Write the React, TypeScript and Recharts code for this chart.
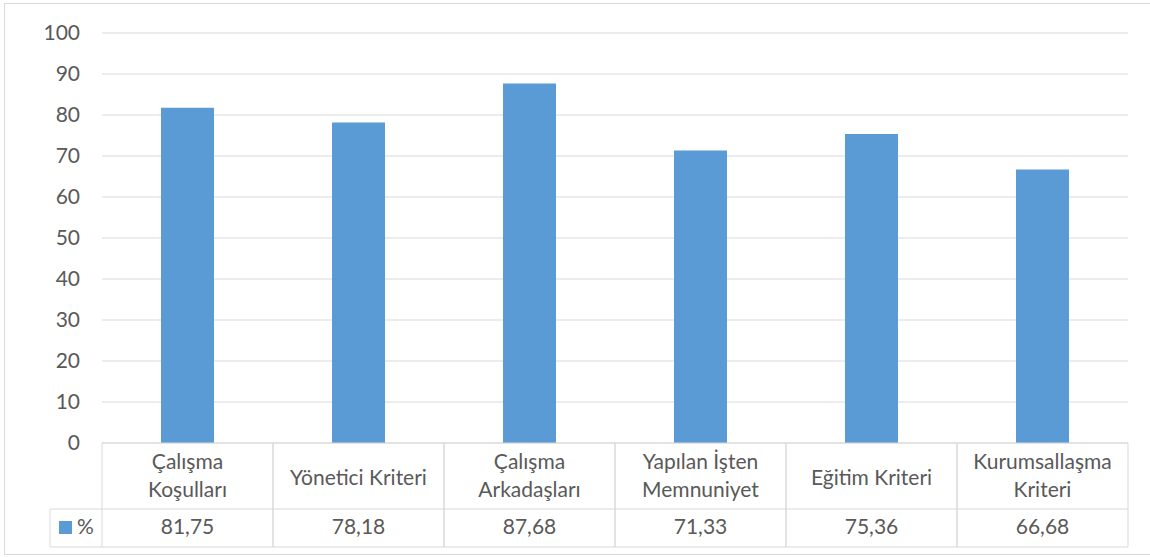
import { Bar, BarChart, CartesianGrid, XAxis, YAxis } from 'recharts'

const CATEGORIES = [
  'Çalışma\nKoşulları',
  'Yönetici Kriteri',
  'Çalışma\nArkadaşları',
  'Yapılan İşten\nMemnuniyet',
  'Eğitim Kriteri',
  'Kurumsallaşma\nKriteri',
]
const VALUES = [81.75, 78.18, 87.68, 71.33, 75.36, 66.68]
const Y_TICKS = [0, 10, 20, 30, 40, 50, 60, 70, 80, 90, 100]
const SERIES_NAME = '%'

const W = 1150
const H = 557
const PLOT_LEFT = 102
const PLOT_RIGHT = 1128
const PLOT_TOP = 33
const PLOT_BOTTOM = 443
const Y_AXIS_W = 60
const COL_W = (PLOT_RIGHT - PLOT_LEFT) / CATEGORIES.length
const ROW1 = 66 // category row
const ROW2 = 38 // value row
const LEGEND_W = 52

const LINE = '#d9d9d9'
const TEXT = '#595959'
const BAR = '#5b9bd5'
const FONT = 'Lato, "Noto Sans", sans-serif'
const FS = 21

const data = CATEGORIES.map((name, i) => ({ name, value: VALUES[i] }))

// virgüllü ondalık gösterim (Excel TR)
const fmt = (v: number) => v.toFixed(2).replace('.', ',')

function YTick({ x, y, payload }: any) {
  return (
    <text x={x} y={y + 7} textAnchor="end" fill={TEXT} fontFamily={FONT} fontSize={FS}>
      {payload.value}
    </text>
  )
}

function TableTick({ x, y, index, payload }: any) {
  const left = x - COL_W / 2
  const right = x + COL_W / 2
  const top = y
  const mid = top + ROW1
  const bottom = mid + ROW2
  const lines = String(payload.value).split('\n')
  const baselines = lines.length === 2 ? [top + 26, top + 54] : [top + 42]
  return (
    <g>
      <line x1={left} x2={right} y1={top} y2={top} stroke={LINE} />
      <line x1={left} x2={right} y1={mid} y2={mid} stroke={LINE} />
      <line x1={left} x2={right} y1={bottom} y2={bottom} stroke={LINE} />
      <line x1={left} x2={left} y1={top} y2={bottom} stroke={LINE} />
      <line x1={right} x2={right} y1={top} y2={bottom} stroke={LINE} />
      {lines.map((t, i) => (
        <text key={i} x={x} y={baselines[i]} textAnchor="middle" fill={TEXT} fontFamily={FONT} fontSize={FS}>
          {t}
        </text>
      ))}
      <text x={x} y={top + 91} textAnchor="middle" fill={TEXT} fontFamily={FONT} fontSize={FS}>
        {fmt(VALUES[index])}
      </text>
      {index === 0 && (
        <g>
          <line x1={left - LEGEND_W} x2={left} y1={mid} y2={mid} stroke={LINE} />
          <line x1={left - LEGEND_W} x2={left} y1={bottom} y2={bottom} stroke={LINE} />
          <line x1={left - LEGEND_W} x2={left - LEGEND_W} y1={mid} y2={bottom} stroke={LINE} />
          <rect x={left - LEGEND_W + 9} y={mid + 12} width={13} height={13} fill={BAR} />
          <text x={left - LEGEND_W + 27} y={top + 91} fill={TEXT} fontFamily={FONT} fontSize={FS}>
            {SERIES_NAME}
          </text>
        </g>
      )}
    </g>
  )
}

export default function App() {
  return (
    <div style={{ position: 'absolute', left: 0, top: 0, width: W, height: H, background: '#fff' }}>
      <div
        style={{
          position: 'absolute',
          left: 4,
          top: 3,
          width: W - 4,
          height: 552,
          boxSizing: 'border-box',
          borderLeft: `1px solid ${LINE}`,
          borderTop: `1px solid ${LINE}`,
          borderBottom: `1px solid ${LINE}`,
        }}
      />
      <div style={{ position: 'absolute', left: 0, top: 0 }}>
        <BarChart
          width={W}
          height={H}
          data={data}
          margin={{ top: PLOT_TOP, right: W - PLOT_RIGHT, left: PLOT_LEFT - Y_AXIS_W, bottom: 4 }}
        >
          <CartesianGrid vertical={false} stroke={LINE} />
          <YAxis
            width={Y_AXIS_W}
            domain={[0, 100]}
            ticks={Y_TICKS}
            axisLine={false}
            tickLine={false}
            tickSize={0}
            tickMargin={22}
            tick={(p: any) => <YTick {...p} />}
          />
          <XAxis
            dataKey="name"
            height={H - PLOT_BOTTOM - 4}
            interval={0}
            axisLine={false}
            tickLine={false}
            tickSize={0}
            tickMargin={0}
            tick={(p: any) => <TableTick {...p} />}
          />
          <Bar dataKey="value" fill={BAR} barSize={53} isAnimationActive={false} />
        </BarChart>
      </div>
    </div>
  )
}
